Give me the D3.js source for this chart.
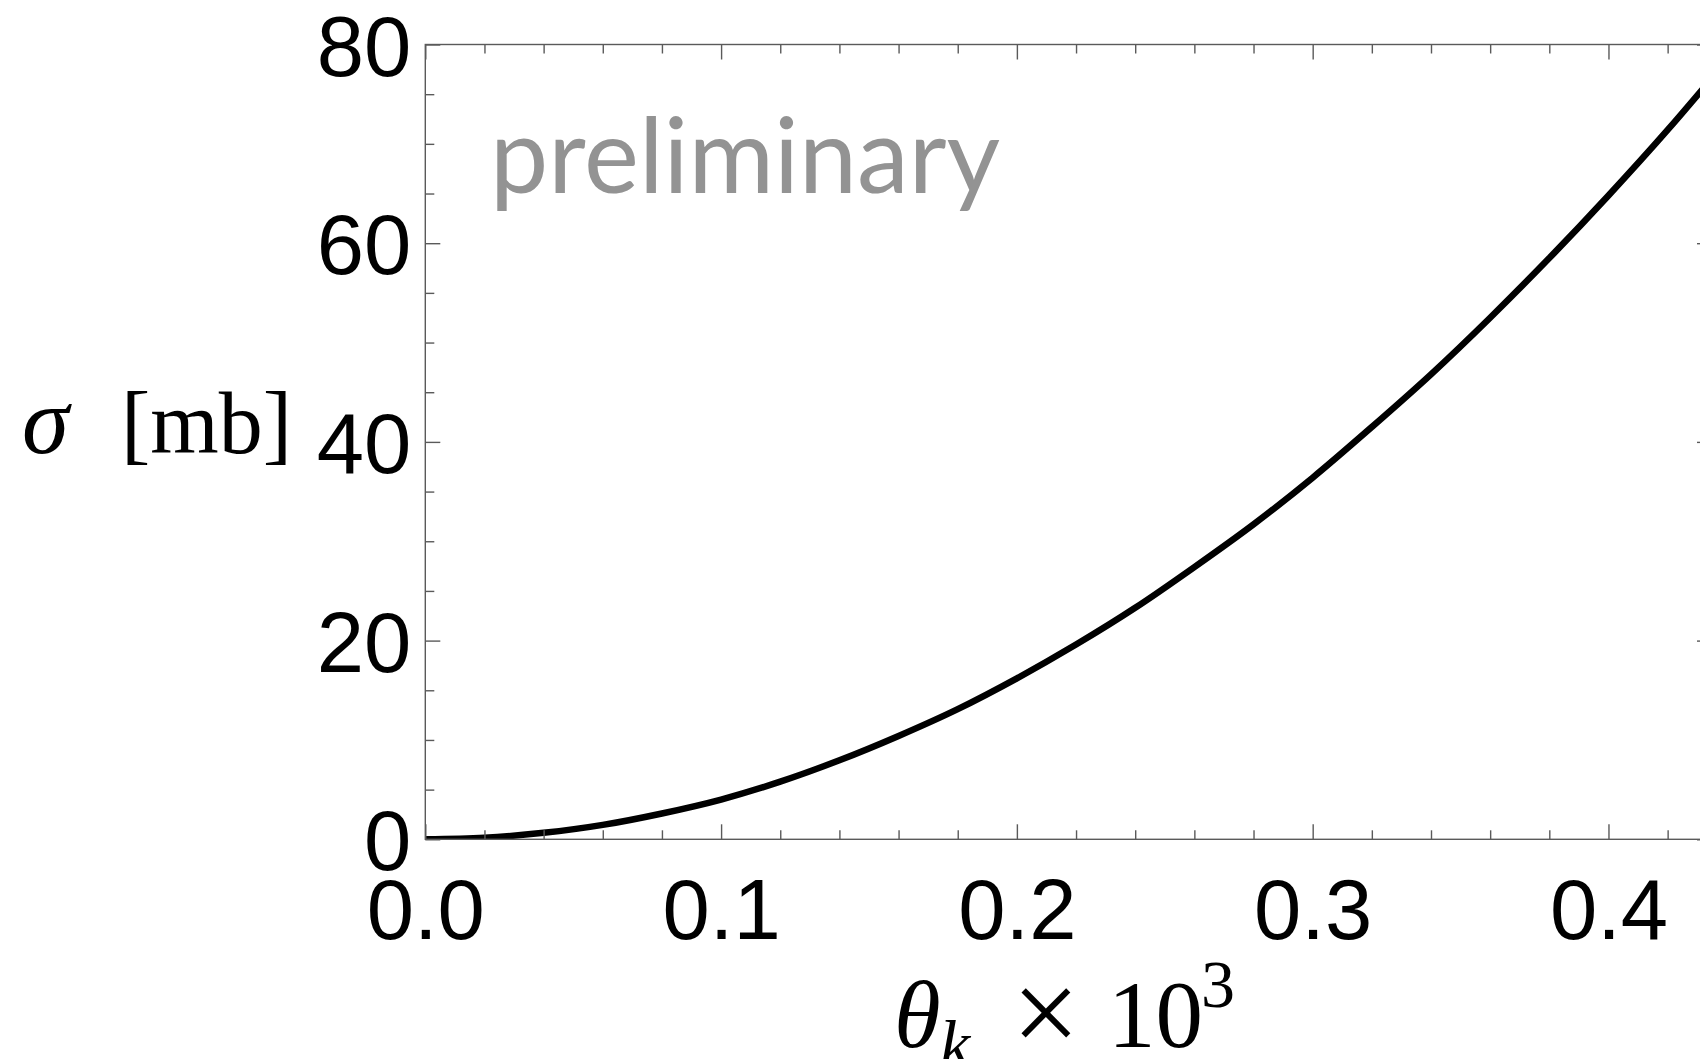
<!DOCTYPE html>
<html>
<head>
<meta charset="utf-8">
<script src="https://cdn.jsdelivr.net/npm/d3@7"></script>
<style>
  html, body { margin: 0; padding: 0; background: #fff; overflow: hidden; }
  svg { display: block; }
</style>
</head>
<body>
<svg id="chart" width="1700" height="1059"></svg>
<script>
// ---- data ----
const thetaK = [0, 0.02, 0.04, 0.06, 0.08, 0.10, 0.12, 0.14, 0.16, 0.18, 0.20, 0.22,
                0.24, 0.26, 0.28, 0.30, 0.32, 0.34, 0.36, 0.38, 0.40, 0.42, 0.44];
const sigmaMb = [0, 0.16, 0.65, 1.45, 2.6, 4.0, 5.8, 7.95, 10.4, 13.1, 16.2, 19.6,
                 23.3, 27.4, 31.7, 36.4, 41.5, 46.8, 52.5, 58.5, 64.8, 71.4, 78.4];
const xMajorTicks = [0, 0.1, 0.2, 0.3, 0.4];
const xTickLabels = ["0.0", "0.1", "0.2", "0.3", "0.4"];
const xMinorTicks = [0.02, 0.04, 0.06, 0.08, 0.12, 0.14, 0.16, 0.18, 0.22, 0.24, 0.26, 0.28,
                     0.32, 0.34, 0.36, 0.38, 0.42];
const yMajorTicks = [0, 20, 40, 60, 80];
const yTickLabels = ["0", "20", "40", "60", "80"];
const yMinorTicks = [5, 10, 15, 25, 30, 35, 45, 50, 55, 65, 70, 75];
const watermark = "preliminary";

// ---- layout ----
const svg = d3.select("#chart");
const L = 425.3, R = 1712, T = 44.5, B = 839.3;
const x = d3.scaleLinear().domain([0, 0.435]).range([L, R]);
const y = d3.scaleLinear().domain([0, 80]).range([B, T]);

const frameColor = "#5a5a5a";
const majorLen = 15, minorLen = 9;

svg.append("defs").append("clipPath").attr("id", "plotclip")
  .append("rect").attr("x", L).attr("y", T).attr("width", R - L).attr("height", B - T);

// watermark
svg.append("text")
  .attr("x", 490).attr("y", 192.7)
  .attr("font-family", "Lato, 'Open Sans', sans-serif")
  .attr("font-size", 104)
  .attr("fill", "#939393")
  .text(watermark);

// curve
const pts = thetaK.map((t, i) => [t, sigmaMb[i]]);
svg.append("path")
  .datum(pts)
  .attr("clip-path", "url(#plotclip)")
  .attr("fill", "none")
  .attr("stroke", "#000")
  .attr("stroke-width", 6.5)
  .attr("stroke-linejoin", "round")
  .attr("d", d3.line().x(d => x(d[0])).y(d => y(d[1])).curve(d3.curveMonotoneX));

// axes helper
function styleAxis(g) {
  g.select(".domain").remove();
  g.selectAll(".tick line").attr("stroke", frameColor).attr("stroke-width", 1.4);
}
const tickFont = "'Liberation Sans', Arial, Helvetica, sans-serif";

// bottom major with labels
const gB = svg.append("g").attr("transform", `translate(0,${B})`)
  .call(d3.axisBottom(x).tickValues(xMajorTicks).tickSize(-majorLen).tickSizeOuter(0)
    .tickFormat((d, i) => xTickLabels[i]));
styleAxis(gB);
gB.selectAll(".tick text")
  .attr("font-family", tickFont).attr("font-size", 85).attr("fill", "#000")
  .attr("y", 100).attr("dy", 0);
svg.append("g").attr("transform", `translate(0,${B})`)
  .call(d3.axisBottom(x).tickValues(xMinorTicks).tickSize(-minorLen).tickSizeOuter(0).tickFormat(""))
  .call(styleAxis);

// top
svg.append("g").attr("transform", `translate(0,${T})`)
  .call(d3.axisTop(x).tickValues(xMajorTicks).tickSize(-majorLen).tickSizeOuter(0).tickFormat(""))
  .call(styleAxis);
svg.append("g").attr("transform", `translate(0,${T})`)
  .call(d3.axisTop(x).tickValues(xMinorTicks).tickSize(-minorLen).tickSizeOuter(0).tickFormat(""))
  .call(styleAxis);

// left major with labels
const gL = svg.append("g").attr("transform", `translate(${L},0)`)
  .call(d3.axisLeft(y).tickValues(yMajorTicks).tickSize(-majorLen).tickSizeOuter(0)
    .tickFormat((d, i) => yTickLabels[i]));
styleAxis(gL);
gL.selectAll(".tick text")
  .attr("font-family", tickFont).attr("font-size", 85).attr("fill", "#000")
  .attr("x", -14).attr("dy", 30.5);
svg.append("g").attr("transform", `translate(${L},0)`)
  .call(d3.axisLeft(y).tickValues(yMinorTicks).tickSize(-minorLen).tickSizeOuter(0).tickFormat(""))
  .call(styleAxis);

// right
svg.append("g").attr("transform", `translate(${R},0)`)
  .call(d3.axisRight(y).tickValues(yMajorTicks).tickSize(-majorLen).tickSizeOuter(0).tickFormat(""))
  .call(styleAxis);
svg.append("g").attr("transform", `translate(${R},0)`)
  .call(d3.axisRight(y).tickValues(yMinorTicks).tickSize(-minorLen).tickSizeOuter(0).tickFormat(""))
  .call(styleAxis);

// frame
svg.append("rect")
  .attr("x", L).attr("y", T).attr("width", R - L).attr("height", B - T)
  .attr("fill", "none").attr("stroke", frameColor).attr("stroke-width", 1.4);

// axis titles (math-like serif)
const serif = "'Liberation Serif', 'DejaVu Serif', serif";
const xt = svg.append("text")
  .attr("y", 1046.7)
  .attr("font-family", serif).attr("font-size", 95).attr("fill", "#000");
xt.append("tspan").attr("x", 894).attr("font-style", "italic").text("θ");
xt.append("tspan").attr("x", 940).attr("font-style", "italic").attr("font-size", 68).attr("dy", 20).text("k");
xt.append("tspan").attr("x", 1012).attr("dy", -14).attr("font-size", 120).text("×");
xt.append("tspan").attr("x", 1108).attr("dy", -6).text("10");
xt.append("tspan").attr("x", 1201).attr("font-size", 68).attr("dy", -40).text("3");

const yt = svg.append("text")
  .attr("y", 453)
  .attr("font-family", serif).attr("font-size", 95).attr("fill", "#000");
yt.append("tspan").attr("x", 22).attr("font-style", "italic").text("σ");
yt.append("tspan").attr("x", 121).attr("font-size", 88).text("[mb]");
</script>
</body>
</html>
